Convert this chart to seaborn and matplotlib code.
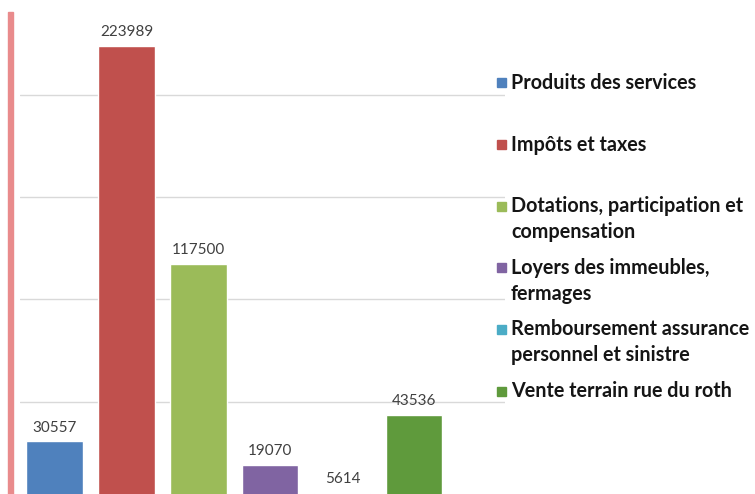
import matplotlib
matplotlib.use("Agg")
from matplotlib import pyplot as plt
from matplotlib.patches import Rectangle
import seaborn as sns
import pandas as pd

# Données du graphique
categories = ['Produits des services', 'Impôts et taxes',
              'Dotations, participation et\ncompensation',
              'Loyers des immeubles,\nfermages',
              'Remboursement assurance\npersonnel et sinistre',
              'Vente terrain rue du roth']
valeurs = [30557, 223989, 117500, 19070, 5614, 43536]
couleurs = ['#4F81BD', '#C0504D', '#9BBB59', '#8064A2', '#4BACC6', '#5F9A3C']
graduations = [0, 50000, 100000, 150000, 200000]

df = pd.DataFrame({'Catégorie': categories, 'Valeur': valeurs})

sns.set_style('white')
plt.rcParams['font.family'] = ['Lato', 'DejaVu Sans']

W, H = 755, 494
fig = plt.figure(figsize=(W / 100, H / 100), dpi=100)

# Zone de tracé (le bas du graphique est coupé comme dans l'original)
zero_px = 504
ax = fig.add_axes([20 / W, (H - zero_px) / H, 485 / W, zero_px / H])
sns.barplot(data=df, x='Catégorie', y='Valeur', hue='Catégorie',
            palette=couleurs, width=0.78, legend=False, ax=ax,
            saturation=1, zorder=3)
ax.set_xlim(-0.48, 6.26)
ax.set_ylim(0, 246300)
ax.set_yticks(graduations)
ax.yaxis.grid(True, color='#D9D9D9', linewidth=1, zorder=0)
ax.set_axisbelow(True)
ax.tick_params(left=False, bottom=False, labelleft=False, labelbottom=False)
ax.set_xlabel('')
ax.set_ylabel('')
for s in ax.spines.values():
    s.set_visible(False)

# Étiquettes de valeurs
for cont in ax.containers:
    ax.bar_label(cont, fmt='%d', padding=5, fontsize=11, color='#404040')

# Légende à droite
y0, pas, interligne = 83, 61.6, 26
for i, (lab, c) in enumerate(zip(categories, couleurs)):
    yc = y0 + pas * i
    fig.patches.append(Rectangle((497 / W, 1 - (yc + 4.5) / H), 9 / W, 9 / H,
                                 transform=fig.transFigure, color=c))
    for k, ligne in enumerate(lab.split('\n')):
        fig.text(511 / W, 1 - (yc + interligne * k) / H, ligne,
                 fontsize=14.2, fontweight='bold', color='#151515',
                 va='center', ha='left')

# Bande rose à gauche
fig.patches.append(Rectangle((8 / W, 0), 4.5 / W, 1 - 12 / H,
                             transform=fig.transFigure, color='#E98B8C'))

fig.savefig('out.png', dpi=100)
